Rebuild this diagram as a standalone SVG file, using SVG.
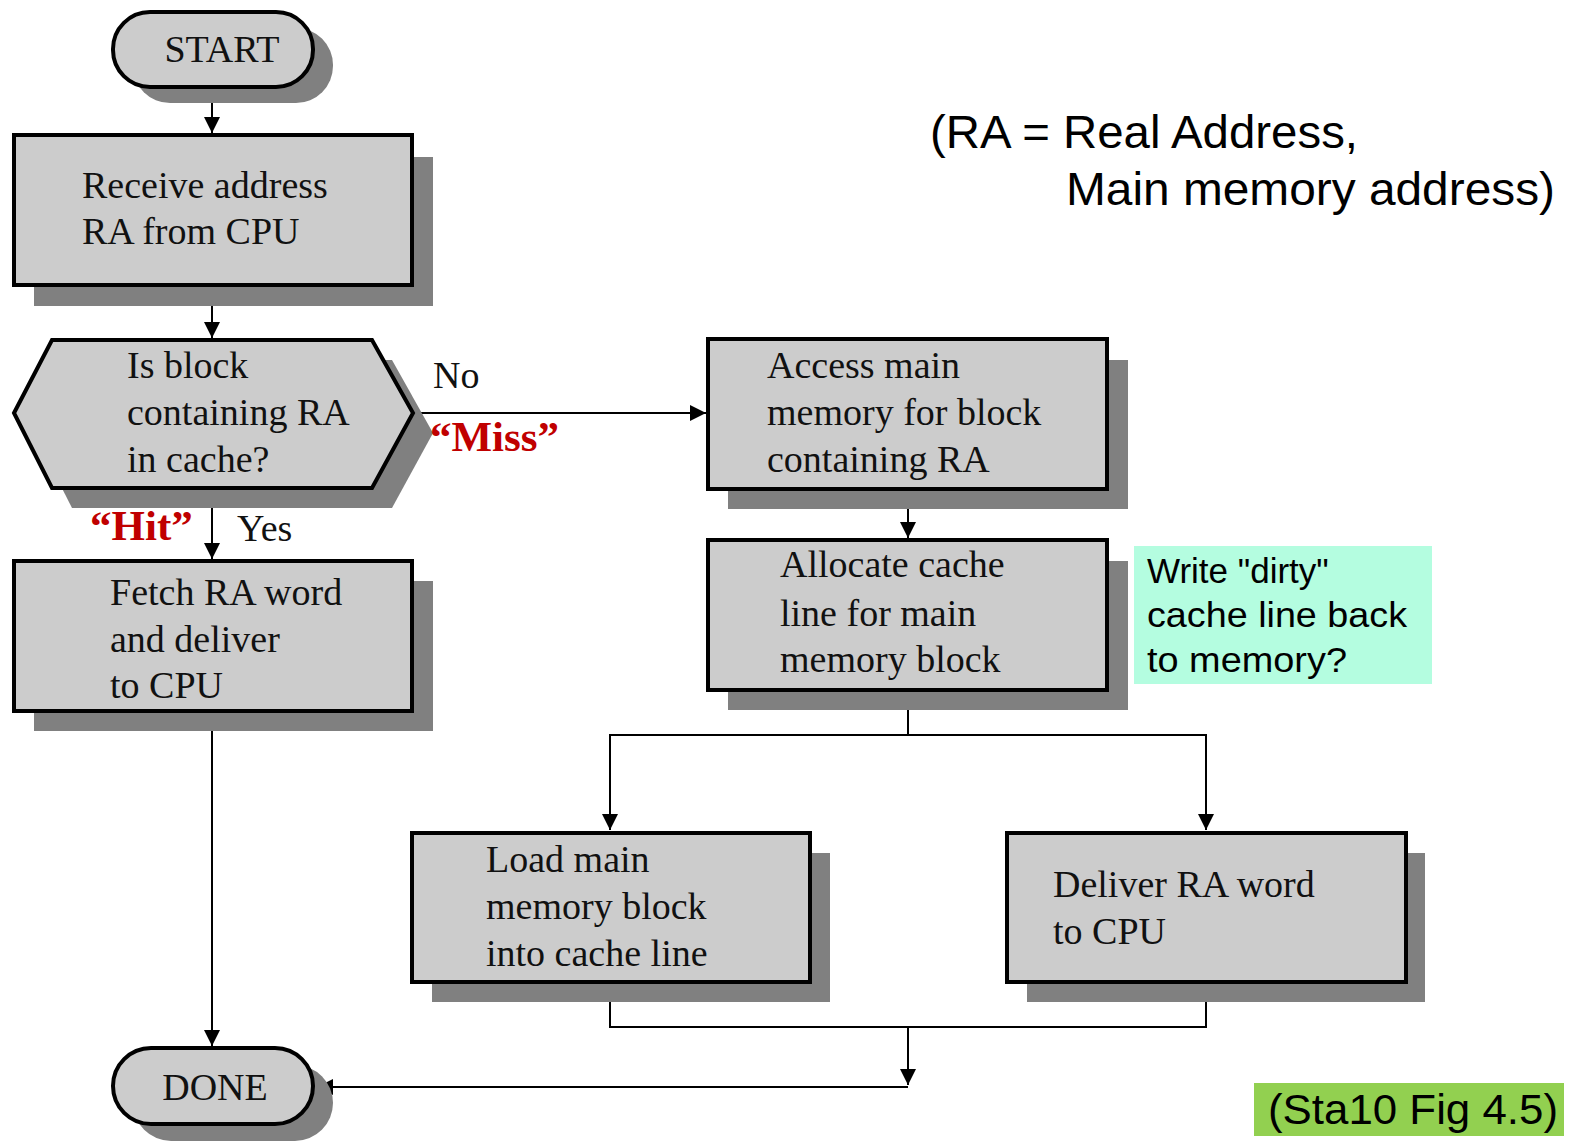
<svg xmlns="http://www.w3.org/2000/svg" width="1573" height="1144" viewBox="0 0 1573 1144">
  <style>
    .box { fill: #cccccc; stroke: #000; stroke-width: 4; }
    .shadow { fill: #808080; }
    .t { font-family: "Liberation Serif", "Times New Roman", serif; font-size: 38px; fill: #111; }
    .red { font-family: "Liberation Serif", "Times New Roman", serif; font-size: 43px; font-weight: bold; fill: #c00000; }
    .sans { font-family: "Liberation Sans", Arial, sans-serif; fill: #000; }
    .wire { fill: none; stroke: #000; stroke-width: 2; }
  </style>
  <defs>
    <marker id="arrow" viewBox="0 0 16 18" refX="16" refY="9" markerWidth="16" markerHeight="18" markerUnits="userSpaceOnUse" orient="auto">
      <path d="M0,1 L16,9 L0,17 Z" fill="#000"/>
    </marker>
  </defs>
  <rect width="1573" height="1144" fill="#fff"/>

  <!-- connectors -->
  <g id="connectors">
    <line class="wire" x1="212" y1="87" x2="212" y2="133" marker-end="url(#arrow)"/>
    <line class="wire" x1="212" y1="285" x2="212" y2="338" marker-end="url(#arrow)"/>
    <line class="wire" x1="212" y1="488" x2="212" y2="559" marker-end="url(#arrow)"/>
    <line class="wire" x1="413" y1="413" x2="706" y2="413" marker-end="url(#arrow)"/>
    <line class="wire" x1="908" y1="489" x2="908" y2="538" marker-end="url(#arrow)"/>
    <polyline class="wire" points="908,690 908,735 610,735 610,830" marker-end="url(#arrow)"/>
    <polyline class="wire" points="908,735 1206,735 1206,830" marker-end="url(#arrow)"/>
    <polyline class="wire" points="610,982 610,1027 1206,1027 1206,982"/>
    <line class="wire" x1="908" y1="1027" x2="908" y2="1085" marker-end="url(#arrow)"/>
    <line class="wire" x1="908" y1="1087" x2="317" y2="1087" marker-end="url(#arrow)"/>
    <line class="wire" x1="212" y1="711" x2="212" y2="1046" marker-end="url(#arrow)"/>
  </g>

  <!-- START terminator -->
  <g id="start">
    <rect class="shadow" x="133" y="28" width="200" height="75" rx="37"/>
    <rect class="box" x="113" y="12" width="200" height="75" rx="37"/>
    <text class="t" x="222" y="62" text-anchor="middle">START</text>
  </g>

  <!-- Receive address -->
  <g id="receive">
    <rect class="shadow" x="34" y="157" width="399" height="149"/>
    <rect class="box" x="14" y="135" width="398" height="150"/>
    <text class="t" x="82" y="198">Receive address</text>
    <text class="t" x="82" y="244">RA from CPU</text>
  </g>

  <!-- Decision: block in cache? -->
  <g id="decision">
    <polygon class="shadow" points="34,433 72,360 392,360 433,433 392,508 72,508"/>
    <polygon class="box" points="14,413 52,340 372,340 413,413 372,488 52,488"/>
    <text class="t" x="127" y="378">Is block</text>
    <text class="t" x="127" y="425">containing RA</text>
    <text class="t" x="127" y="472">in cache?</text>
  </g>

  <!-- branch labels -->
  <g id="labels">
    <text class="t" x="433" y="388">No</text>
    <text class="red" x="430" y="451">“Miss”</text>
    <text class="red" x="90" y="540">“Hit”</text>
    <text class="t" x="237" y="541">Yes</text>
  </g>

  <!-- Fetch RA word -->
  <g id="fetch">
    <rect class="shadow" x="34" y="581" width="399" height="150"/>
    <rect class="box" x="14" y="561" width="398" height="150"/>
    <text class="t" x="110" y="605">Fetch RA word</text>
    <text class="t" x="110" y="652">and deliver</text>
    <text class="t" x="110" y="698">to CPU</text>
  </g>

  <!-- Access main memory -->
  <g id="access">
    <rect class="shadow" x="728" y="360" width="400" height="149"/>
    <rect class="box" x="708" y="339" width="399" height="150"/>
    <text class="t" x="767" y="378">Access main</text>
    <text class="t" x="767" y="425">memory for block</text>
    <text class="t" x="767" y="472">containing RA</text>
  </g>

  <!-- Allocate cache line -->
  <g id="allocate">
    <rect class="shadow" x="728" y="561" width="400" height="149"/>
    <rect class="box" x="708" y="540" width="399" height="150"/>
    <text class="t" x="780" y="577">Allocate cache</text>
    <text class="t" x="780" y="626">line for main</text>
    <text class="t" x="780" y="672">memory block</text>
  </g>

  <!-- write-back note -->
  <g id="dirty-note">
    <rect x="1134" y="546" width="298" height="138" fill="#b4fde0"/>
    <text class="sans" x="1147" y="583" font-size="35">Write "dirty"</text>
    <text class="sans" x="1147" y="627" font-size="35" textLength="260" lengthAdjust="spacingAndGlyphs">cache line back</text>
    <text class="sans" x="1147" y="672" font-size="35" textLength="200" lengthAdjust="spacingAndGlyphs">to memory?</text>
  </g>

  <!-- Load main memory block -->
  <g id="load">
    <rect class="shadow" x="432" y="853" width="398" height="149"/>
    <rect class="box" x="412" y="833" width="398" height="149"/>
    <text class="t" x="486" y="872">Load main</text>
    <text class="t" x="486" y="919">memory block</text>
    <text class="t" x="486" y="966">into cache line</text>
  </g>

  <!-- Deliver RA word -->
  <g id="deliver">
    <rect class="shadow" x="1027" y="853" width="398" height="149"/>
    <rect class="box" x="1007" y="833" width="399" height="149"/>
    <text class="t" x="1053" y="897">Deliver RA word</text>
    <text class="t" x="1053" y="944">to CPU</text>
  </g>

  <!-- DONE terminator -->
  <g id="done">
    <rect class="shadow" x="133" y="1065" width="200" height="76" rx="38"/>
    <rect class="box" x="113" y="1048" width="200" height="76" rx="38"/>
    <text class="t" x="215" y="1100" text-anchor="middle">DONE</text>
  </g>

  <!-- RA definition -->
  <g id="ra-note">
    <text class="sans" x="930" y="148" font-size="47" textLength="428" lengthAdjust="spacingAndGlyphs">(RA = Real Address,</text>
    <text class="sans" x="1066" y="205" font-size="47" textLength="489" lengthAdjust="spacingAndGlyphs">Main memory address)</text>
  </g>

  <!-- figure reference -->
  <g id="fig-ref">
    <rect x="1254" y="1083" width="310" height="53" fill="#92d050"/>
    <text class="sans" x="1268" y="1124" font-size="42" textLength="290" lengthAdjust="spacingAndGlyphs">(Sta10 Fig 4.5)</text>
  </g>
</svg>
